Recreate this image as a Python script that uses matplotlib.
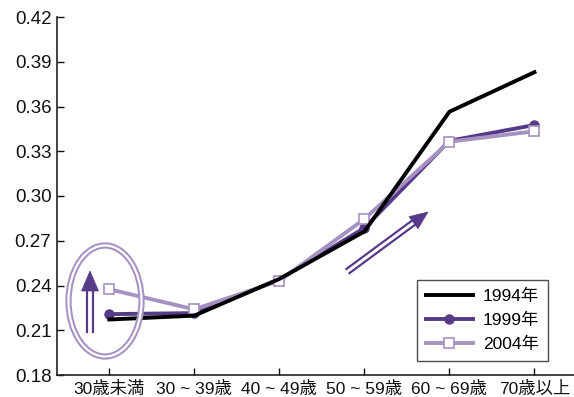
import matplotlib
matplotlib.use("Agg")
import matplotlib.pyplot as plt
from matplotlib.patches import Ellipse, Polygon
from matplotlib.lines import Line2D
import numpy as np

plt.rcParams['font.family'] = ['Liberation Sans', 'Noto Sans CJK JP']

categories = ["30歳未満", "30 ~ 39歳", "40 ~ 49歳", "50 ~ 59歳", "60 ~ 69歳", "70歳以上"]
s1994 = [0.2172, 0.2198, 0.2444, 0.2762, 0.3565, 0.3830]
s1999 = [0.2208, 0.2215, 0.2440, 0.2786, 0.3370, 0.3476]
s2004 = [0.2375, 0.2240, 0.2432, 0.2846, 0.3364, 0.3434]
yticks = [0.18, 0.21, 0.24, 0.27, 0.30, 0.33, 0.36, 0.39, 0.42]
legend_labels = ["1994年", "1999年", "2004年"]

c_dark = "#573a88"
c_light = "#a592c2"

W, H = 574, 397
fig = plt.figure(figsize=(W / 100, H / 100), dpi=100)
ax = fig.add_axes([57 / W, 22 / H, (574 - 57) / W, 358 / H])

x = np.arange(len(categories))
ax.plot(x, s2004, color=c_light, lw=2.8, marker="s", ms=7.5,
        mfc="white", mec=c_light, mew=1.2, zorder=3, label=legend_labels[2])
ax.plot(x, s1999, color=c_dark, lw=2.8, marker="o", ms=6.5,
        mfc=c_dark, mec=c_dark, zorder=2, label=legend_labels[1])
ax.plot(x, s1994, color="black", lw=2.8, zorder=4, label=legend_labels[0])

ax.set_xlim(-0.615, 5.465)
ax.set_ylim(0.18, 0.42)
ax.set_yticks(yticks)
ax.set_yticklabels([f"{v:.2f}" for v in yticks])
ax.set_xticks(x)
ax.set_xticklabels(categories)
ax.tick_params(direction="in", length=5, width=1, colors="#111111")
ax.tick_params(axis="x", pad=4, labelsize=12.5)
ax.tick_params(axis="y", pad=4, labelsize=13.5)
for side in ("top", "right"):
    ax.spines[side].set_visible(False)
for side in ("left", "bottom"):
    ax.spines[side].set_linewidth(1.2)
    ax.spines[side].set_color("#222222")

# Legend in a fixed order
handles = [
    Line2D([], [], color="black", lw=2.8),
    Line2D([], [], color=c_dark, lw=2.8, marker="o", ms=6.5, mfc=c_dark, mec=c_dark),
    Line2D([], [], color=c_light, lw=2.8, marker="s", ms=7.5, mfc="white", mec=c_light, mew=1.2),
]
leg = ax.legend(handles, legend_labels, loc="lower right",
                bbox_to_anchor=((548 - 57) / (574 - 57), (375 - 361) / 358),
                frameon=True, fancybox=False, edgecolor="#222222", fontsize=12.5,
                handlelength=2.7, handletextpad=0.6, labelspacing=0.5,
                borderpad=0.5, borderaxespad=0)
leg.get_frame().set_linewidth(1.0)

ftr = fig.transFigure

def fig_xy(xp, yp):
    return (xp / W, 1 - yp / H)

# double-line ellipse
cx, cy = fig_xy(105, 301)
for lw, col in ((4.5, c_light), (1.6, "white")):
    e = Ellipse((cx, cy), 73 / W, 111 / H, transform=ftr, fill=False,
                edgecolor=col, lw=lw, zorder=5)
    fig.add_artist(e)

def double_arrow(x0, y0, x1, y1, head_len=20, head_w=17):
    d = np.array([x1 - x0, y1 - y0], float)
    L = np.hypot(*d)
    u = d / L
    n = np.array([-u[1], u[0]])
    base = np.array([x1, y1]) - u * head_len
    # two parallel shaft lines
    for off in (-2.6, 2.6):
        p0 = np.array([x0, y0]) + n * off
        p1 = base + n * off + u * 2
        fig.add_artist(Line2D([p0[0] / W, p1[0] / W], [1 - p0[1] / H, 1 - p1[1] / H],
                              transform=ftr, color=c_dark, lw=1.6, zorder=6))
    tip = np.array([x1, y1])
    a = base + n * head_w / 2
    b = base - n * head_w / 2
    poly = Polygon([fig_xy(*tip), fig_xy(*a), fig_xy(*b)], closed=True,
                   transform=ftr, facecolor=c_dark, edgecolor=c_dark, lw=0.5, zorder=6)
    fig.add_artist(poly)

double_arrow(90, 332, 90, 271)
double_arrow(348, 271, 428, 212, head_len=18, head_w=15)

fig.savefig("out.png", dpi=100)
